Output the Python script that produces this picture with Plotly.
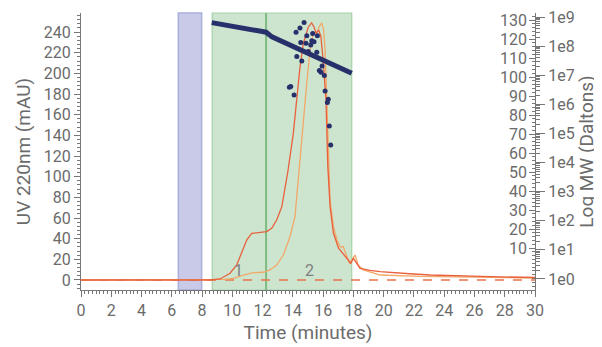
import plotly.graph_objects as go

# ---- data ----
red_t = [0, 8.5, 9.19, 9.85, 10.29, 10.62, 10.95, 11.28, 11.94, 12.27, 12.60, 12.93, 13.27, 13.68,
         14.03, 14.26, 14.47, 14.69, 15.02, 15.24, 15.40, 15.53, 15.70, 15.85, 16.0, 16.19, 16.31,
         16.46, 16.68, 17.01, 17.45, 17.83, 18.0, 18.18, 18.44, 19.1, 19.76, 21.96, 23.07, 26.4, 30]
red_v = [0, 0, 1.0, 6.5, 14.5, 25.8, 38.7, 45.2, 46.2, 46.8, 50.0, 58.1, 71.0, 106,
         142, 174, 206, 229, 245, 249, 245, 239, 242, 236, 213, 174, 110,
         71, 45.5, 31, 22.6, 16.2, 21, 16.5, 11.3, 9.2, 8.0, 5.8, 4.8, 3.4, 2.4]

orange_t = [0, 9.5, 10.07, 10.73, 11.39, 12.05, 12.49, 12.93, 13.37, 13.81, 14.14, 14.26, 14.59,
            14.92, 15.14, 15.36, 15.57, 15.73, 15.91, 16.03, 16.13, 16.24, 16.35, 16.46, 16.68,
            16.92, 17.12, 17.34, 17.45, 17.75, 18.11, 18.31, 18.66, 19.3, 19.76, 22.4, 26.4, 30]
orange_v = [0, 0.5, 1.6, 4.8, 7.1, 7.5, 9.7, 14.5, 24.2, 41.9, 61.3, 82, 142,
            191, 223, 240, 237, 245, 249, 242, 223, 174, 110, 77, 51.6,
            38.7, 32.2, 32.2, 27, 16.0, 24.2, 14.5, 9.7, 6.5, 4.8, 3.4, 2.4, 1.9]

baseline_t = [0, 30]
baseline_v = [0, 0]

mw_fit_t = [8.64, 12.23, 12.62, 17.89]
mw_fit_mw = [6.46e8, 3.02e8, 2.09e8, 1.17e7]

mw_pts_t = [14.74, 14.47, 14.21, 14.92, 15.31, 15.62, 14.52, 14.87, 15.25, 15.40, 15.18, 15.02,
            15.58, 14.26, 14.59, 15.75, 15.86, 16.08, 15.93, 13.86, 13.77, 14.08, 16.13, 16.34,
            16.28, 16.41, 16.50]
mw_pts_mw = [6.5e8, 4.2e8, 3.0e8, 2.3e8, 2.75e8, 2.3e8, 1.35e8, 1.26e8, 1.55e8, 1.41e8, 1.1e8, 6.5e7,
             6.2e7, 4.4e7, 3.1e7, 1.45e7, 1.26e7, 9.8e6, 2.1e7, 4.1e6, 3.9e6, 2.1e6, 2.9e6, 1.5e6,
             1.15e6, 1.8e5, 4.0e4]

void_region = [6.43, 7.97]
peak_region = [8.67, 17.89]
peak_split = 12.23
region_labels = ["1", "2"]
region_label_t = [10.44, 15.07]

log_ticks = [1e0, 1e1, 1e2, 1e3, 1e4, 1e5, 1e6, 1e7, 1e8, 1e9]
log_ticktext = ["1e0", "1e1", "1e2", "1e3", "1e4", "1e5", "1e6", "1e7", "1e8", "1e9"]
inner_ticks = [10, 20, 30, 40, 50, 60, 70, 80, 90, 100, 110, 120, 130]

# ---- figure ----
GRAY = "#6b6b6b"
AXIS = "#777777"
NAVY = "#27306b"
RED = "#e8603c"
ORANGE = "#f2a868"

fig = go.Figure()

# invisible trace so the inner right axis gets drawn
fig.add_trace(go.Scatter(x=[None], y=[None], yaxis="y2", mode="markers", showlegend=False,
                         hoverinfo="skip"))
fig.add_trace(go.Scatter(x=mw_fit_t, y=mw_fit_mw, mode="lines", yaxis="y3",
                         line=dict(color=NAVY, width=5), showlegend=False, hoverinfo="skip"))
fig.add_trace(go.Scatter(x=mw_pts_t, y=mw_pts_mw, mode="markers", yaxis="y3",
                         marker=dict(color=NAVY, size=5), showlegend=False))
fig.add_trace(go.Scatter(x=baseline_t, y=baseline_v, mode="lines",
                         line=dict(color="#e8734a", width=1.5, dash="dash"), showlegend=False))
fig.add_trace(go.Scatter(x=orange_t, y=orange_v, mode="lines",
                         line=dict(color=ORANGE, width=1.3), showlegend=False))
fig.add_trace(go.Scatter(x=red_t, y=red_v, mode="lines",
                         line=dict(color=RED, width=1.3), showlegend=False))

fig.add_shape(type="rect", xref="x", yref="paper", x0=void_region[0], x1=void_region[1], y0=0, y1=1,
              fillcolor="#c8cae8", line=dict(color="#a9aedc", width=1.5), layer="below")
fig.add_shape(type="rect", xref="x", yref="paper", x0=peak_region[0], x1=peak_region[1], y0=0, y1=1,
              fillcolor="#cde5cf", line=dict(color="#a3d2a7", width=1.2), layer="below")
fig.add_shape(type="line", xref="x", yref="paper", x0=peak_split, x1=peak_split, y0=0, y1=1,
              line=dict(color="#7dbb80", width=2), layer="below")

for lab, t in zip(region_labels, region_label_t):
    fig.add_annotation(x=t, y=9, xref="x", yref="y", text=lab, showarrow=False,
                       font=dict(size=16, color="#7f7f7f"))

# labels of the inner right axis (drawn inside the plot, right-aligned to its ticks)
for v in inner_ticks:
    fig.add_annotation(x=1, y=v, xref="paper", yref="y2", text=str(v), showarrow=False,
                       xanchor="right", xshift=-6, font=dict(size=16, color=GRAY))

minor_log = [m * d for d in log_ticks[:-1] for m in range(2, 10)]

# the page has an 8px body margin, so the figure is sized/margined to compensate
fig.update_layout(
    width=594, height=339,
    margin=dict(l=73, r=67, t=5, b=57, autoexpand=False),
    plot_bgcolor="white", paper_bgcolor="white",
    font=dict(family="Roboto", size=16, color=GRAY),
    xaxis=dict(range=[0, 30], dtick=2, tick0=0, ticks="outside", ticklen=6, tickcolor=AXIS,
               showline=True, linecolor=AXIS, showgrid=False, zeroline=False, automargin=False,
               ticklabeloverflow="allow",
               minor=dict(dtick=0.25, ticks="outside", ticklen=3, tickcolor=AXIS),
               title=dict(text="Time (minutes)", standoff=6)),
    yaxis=dict(range=[-9.7, 258.5], dtick=20, tick0=0, ticks="outside", ticklen=6, tickcolor=AXIS,
               showline=True, linecolor=AXIS, showgrid=False, zeroline=False, automargin=False,
               ticklabeloverflow="allow",
               minor=dict(dtick=4, ticks="outside", ticklen=3, tickcolor=AXIS),
               title=dict(text="UV 220nm (mAU)", standoff=8)),
    yaxis2=dict(overlaying="y", side="right", anchor="x", range=[-12.1, 133.7],
                tickmode="array", tickvals=inner_ticks, ticks="inside", ticklen=6,
                showticklabels=False, tickcolor=AXIS, automargin=False,
                showline=True, linecolor=AXIS, showgrid=False, zeroline=False,
                minor=dict(dtick=2, ticks="inside", ticklen=3, tickcolor=AXIS)),
    yaxis3=dict(overlaying="y", side="right", anchor="x", type="log", range=[-0.38, 9.14],
                tickmode="array", tickvals=log_ticks, ticktext=log_ticktext,
                ticks="outside", ticklen=9, tickcolor=AXIS, automargin=False,
                ticklabeloverflow="allow",
                showline=True, linecolor=AXIS, showgrid=False, zeroline=False,
                minor=dict(tickmode="array", tickvals=minor_log, ticks="outside", ticklen=4, tickcolor=AXIS),
                title=dict(text="Log MW (Daltons)", standoff=6)),
)

fig.write_html("out.html")
